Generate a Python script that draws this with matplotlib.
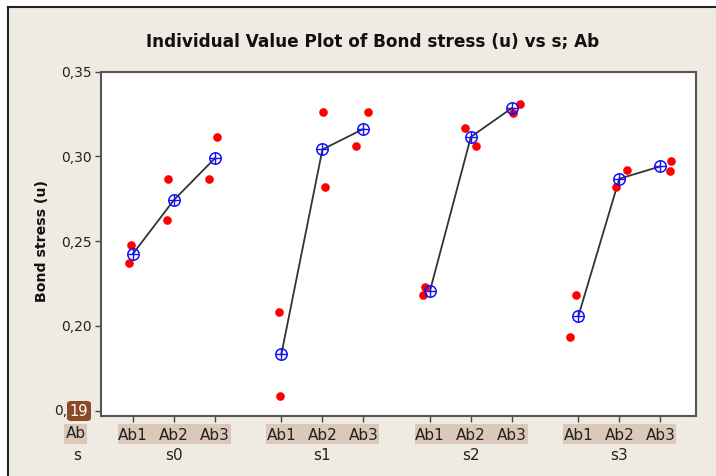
import numpy as np
import matplotlib
matplotlib.use("Agg")
import matplotlib.pyplot as plt
from matplotlib.patches import Rectangle, FancyBboxPatch
from matplotlib.lines import Line2D
import matplotlib.transforms as mtransforms

plt.rcParams['font.family'] = ['DejaVu Sans']

# Data
s_levels = ["s0", "s1", "s2", "s3"]
ab_levels = ["Ab1", "Ab2", "Ab3"]

# two observations per (s, Ab) cell
obs_a = [[0.2479, 0.2864, 0.3114],
         [0.2081, 0.3262, 0.3262],
         [0.2229, 0.3168, 0.3311],
         [0.2180, 0.2917, 0.2970]]
obs_b = [[0.2372, 0.2622, 0.2864],
         [0.1589, 0.2819, 0.3061],
         [0.2180, 0.3061, 0.3258],
         [0.1934, 0.2819, 0.2911]]

# small horizontal jitter (x units) like Minitab's individual value plot
jitter_a = [[-0.06, -0.15, 0.04], [-0.07, 0.01, 0.12], [-0.11, -0.14, 0.21], [-0.05, 0.19, 0.25]]
jitter_b = [[-0.10, -0.18, -0.15], [-0.03, 0.07, -0.18], [-0.16, 0.13, 0.02], [-0.21, -0.09, 0.23]]

y_ticks = [0.15, 0.20, 0.25, 0.30, 0.35]
# lowest label is partly hidden by the "19" badge in the reference, drawn separately
y_ticklabels = ["", "0,20", "0,25", "0,30", "0,35"]

group_step = 3.62

bg = "#EFEBE2"
fig = plt.figure(figsize=(7.16, 4.76), dpi=100, facecolor="white")
fig.patches.append(Rectangle((8 / 716, 0), 1, 1 - 7 / 476, transform=fig.transFigure,
                             facecolor=bg, edgecolor="none", zorder=-5))
fig.lines.append(Line2D([8 / 716, 1], [1 - 7 / 476] * 2, transform=fig.transFigure,
                        color="#222222", lw=1.5))
fig.lines.append(Line2D([8 / 716] * 2, [0, 1 - 7 / 476], transform=fig.transFigure,
                        color="#222222", lw=1.5))

ax = fig.add_axes([101 / 716, 1 - 416 / 476, (696 - 101) / 716, (416 - 71.5) / 476])
ax.set_facecolor("white")

obs_a = np.array(obs_a)
obs_b = np.array(obs_b)
means = (obs_a + obs_b) / 2

xticks = []
for g in range(len(s_levels)):
    xs = g * group_step + np.arange(len(ab_levels))
    xticks.extend(xs)
    ax.plot(xs, means[g], color="#333333", lw=1.3, zorder=2)
    ax.plot(xs + np.array(jitter_a[g]), obs_a[g], "o", color="#FF0000", ms=6.2, mec="none", zorder=3)
    ax.plot(xs + np.array(jitter_b[g]), obs_b[g], "o", color="#FF0000", ms=6.2, mec="none", zorder=3)
    ax.plot(xs, means[g], "o", mfc="none", mec="#1010FF", ms=8.2, mew=1.1, zorder=4)
    ax.plot(xs, means[g], "+", color="#1010FF", ms=8.2, mew=1.0, zorder=4)

ax.set_xlim(-0.78, 13.73)
ax.set_ylim(0.1469, 0.35)
ax.set_yticks(y_ticks)
ax.set_yticklabels(y_ticklabels, fontsize=10, color="#222222")
ax.set_xticks(xticks)
ax.set_xticklabels(ab_levels * len(s_levels), fontsize=11, color="#222222")
ax.tick_params(axis="both", direction="out", length=4, width=1, color="#444444", pad=3)
ax.tick_params(axis="y", pad=2.7)
ax.tick_params(axis="x", pad=5)
for sp in ax.spines.values():
    sp.set_color("#555555")
    sp.set_linewidth(1.5)

# highlighted label bands under the ticks
trans = mtransforms.blended_transform_factory(ax.transData, ax.transAxes)
band_col = "#DCC8B8"
y0 = (416 - 444) / 344.5
h = 20 / 344.5
for g in range(len(s_levels)):
    x0 = g * group_step - 0.37
    ax.add_patch(Rectangle((x0, y0), 2.76, h, transform=trans, facecolor=band_col,
                           edgecolor="none", clip_on=False, zorder=0))
    ax.text(g * group_step + 1, (416 - 455) / 344.5, s_levels[g], transform=trans,
            ha="center", va="center", fontsize=11, color="#222222")
ax.add_patch(Rectangle((-1.68, y0), 0.56, h, transform=trans, facecolor=band_col,
                       edgecolor="none", clip_on=False, zorder=0))
ax.text(-1.40, (416 - 434) / 344.5, "Ab", transform=trans, ha="center", va="center",
        fontsize=11, color="#222222")
ax.text(-1.37, (416 - 455) / 344.5, "s", transform=trans, ha="center", va="center",
        fontsize=11, color="#222222")

# visible part of the lowest tick label, then the brown page-number badge
fig.text(67 / 716, 1 - 411 / 476, "0,", ha="right", va="center", fontsize=10, color="#222222")
fig.patches.append(FancyBboxPatch((67 / 716, 1 - 421 / 476), 24 / 716, 20 / 476,
                                  boxstyle="round,pad=0,rounding_size=0.006",
                                  transform=fig.transFigure, facecolor="#8A4A28",
                                  edgecolor="none", zorder=5))
fig.text(79 / 716, 1 - 411 / 476, "19", ha="center", va="center", color="white",
         fontsize=10.5, zorder=6)

fig.text(0.52, 1 - 42 / 476, "Individual Value Plot of Bond stress (u) vs s; Ab",
         ha="center", va="center", fontsize=12.2, fontweight="bold", color="#111111")
fig.text(42 / 716, 1 - 241 / 476, "Bond stress (u)", rotation=90, ha="center", va="center",
         fontsize=10.2, fontweight="bold", color="#111111")

fig.savefig("out.png", dpi=100, facecolor=fig.get_facecolor())
